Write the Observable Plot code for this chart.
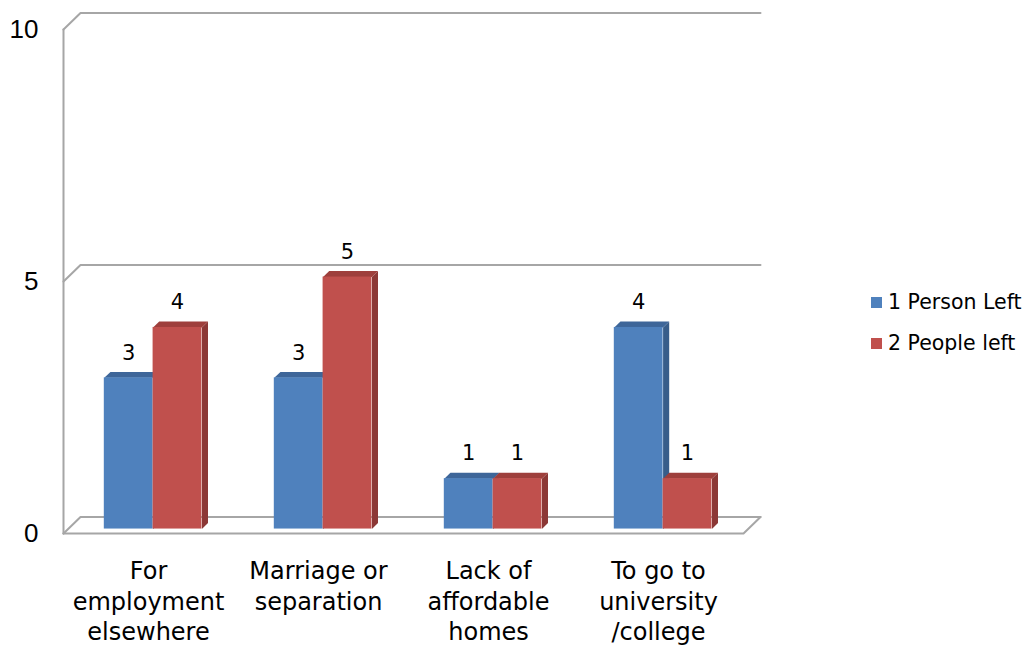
<!DOCTYPE html>
<html>
<head>
<meta charset="utf-8">
<script src="https://cdn.jsdelivr.net/npm/d3@7"></script>
<script src="https://cdn.jsdelivr.net/npm/@observablehq/plot@0.6"></script>
<style>
  body { margin: 0; background: #fff; }
  #wrap { position: relative; width: 1027px; height: 646px; }
  #legend { position: absolute; left: 871px; top: 289px; font-family: "DejaVu Sans", sans-serif; font-size: 20.5px; color: #000; }
  #legend .item { display: flex; align-items: center; height: 26px; margin-bottom: 15px; }
  #legend .sw { width: 11px; height: 11px; margin-right: 6px; }
</style>
</head>
<body>
<div id="wrap"><div id="chart"></div><div id="legend"></div></div>
<script>
// Reasons people left the household
const categories = ["For\nemployment\nelsewhere", "Marriage or\nseparation", "Lack of\naffordable\nhomes", "To go to\nuniversity\n/college"];
const series = ["1 Person Left", "2 People left"];
const onePersonLeft = [3, 3, 1, 4];
const twoPeopleLeft = [4, 5, 1, 1];
const yTicks = [0, 5, 10];

// Face shades per series: front, side, top
const shades = {
  "1 Person Left": {front: "#4f81bd", side: "#385d8a", top: "#3e6699"},
  "2 People left": {front: "#c0504d", side: "#8c3836", top: "#9e3f3c"}
};

// Layout
const W = 860, H = 646;
const mL = 63, mR = 117, mT = 29, mB = 113;
const xDomain = [0, 4], yDomain = [0, 10];
const pxPerX = (W - mL - mR) / (xDomain[1] - xDomain[0]);
const pxPerY = (H - mT - mB) / (yDomain[1] - yDomain[0]);

// Oblique depth of the box, in pixels, converted to data units
const depthPx = [17, 16.5];
const kx = depthPx[0] / pxPerX, ky = depthPx[1] / pxPerY;
const proj = (x, v, d) => ({x: x + d * kx, y: v + d * ky});

// Bars sit in a slab between these depth fractions
const f0 = 0.27, f1 = 0.63;
const barW = 0.287;

const bars = [];
categories.forEach((c, i) => {
  [onePersonLeft, twoPeopleLeft].forEach((vals, s) => {
    const x0 = i + 0.5 - barW + s * barW;
    bars.push({id: `${i}-${s}`, cat: c, series: series[s], value: vals[i], x0, x1: x0 + barW});
  });
});

const face = (b, kind) => {
  const v = b.value;
  const pts = kind === "side"
    ? [[b.x1, 0, f0], [b.x1, v, f0], [b.x1, v, f1], [b.x1, 0, f1]]
    : [[b.x0, v, f0], [b.x1, v, f0], [b.x1, v, f1], [b.x0, v, f1]];
  return pts.map(([x, vv, d]) => ({...proj(x, vv, d), id: b.id + kind, fill: shades[b.series][kind]}));
};
const sides = bars.flatMap(b => face(b, "side"));
const tops = bars.flatMap(b => face(b, "top"));
const fronts = bars.map(b => {
  const p0 = proj(b.x0, 0, f0), p1 = proj(b.x1, b.value, f0);
  return {x1: p0.x, x2: p1.x, y1: p0.y, y2: p1.y, fill: shades[b.series].front};
});
const labels = bars.map(b => ({...proj((b.x0 + b.x1) / 2, b.value, f0), text: String(b.value)}));

// Box outline: front-left edge, floor, and back-wall gridlines with their side-wall diagonals
const boxLines = [];
[[0, 0, 0], [0, 10, 0]].forEach(p => boxLines.push({...proj(...p), id: "left"}));
[[0, 0, 0], [4, 0, 0], [4, 0, 1]].forEach(p => boxLines.push({...proj(...p), id: "floor"}));
yTicks.forEach(t => {
  [[0, t, 0], [0, t, 1], [4, t, 1]].forEach(p => boxLines.push({...proj(...p), id: "grid" + t}));
});

const plot = Plot.plot({
  width: W, height: H,
  marginLeft: mL, marginRight: mR, marginTop: mT, marginBottom: mB,
  x: {domain: xDomain, axis: null},
  y: {domain: yDomain, axis: null},
  color: {type: "identity"},
  style: {fontFamily: "DejaVu Sans, sans-serif", background: "#fff", overflow: "visible"},
  marks: [
    Plot.line(boxLines, {x: "x", y: "y", z: "id", stroke: "#a6a6a6", strokeWidth: 2}),
    Plot.line(sides, {x: "x", y: "y", z: "id", fill: "fill", stroke: "none"}),
    Plot.line(tops, {x: "x", y: "y", z: "id", fill: "fill", stroke: "none"}),
    Plot.rect(fronts, {x1: "x1", x2: "x2", y1: "y1", y2: "y2", fill: "fill"}),
    Plot.text(labels, {x: "x", y: "y", text: "text", dy: -25, fontSize: 21, fill: "#000"}),
    Plot.axisY({ticks: yTicks, tickSize: 0, tickPadding: 25, fontSize: 26, fontFamily: "Liberation Sans, Arial, sans-serif", fill: "#000"}),
    Plot.text(categories, {x: (d, i) => i + 0.5, y: () => 0, text: d => d, lineAnchor: "top", dy: 24, fontSize: 24, lineHeight: 1.27, fill: "#000"})
  ]
});
document.getElementById("chart").appendChild(plot);

const legend = document.getElementById("legend");
series.forEach(s => {
  const item = document.createElement("div");
  item.className = "item";
  const sw = document.createElement("div");
  sw.className = "sw";
  sw.style.background = shades[s].front;
  const label = document.createElement("span");
  label.textContent = s;
  item.append(sw, label);
  legend.append(item);
});
</script>
</body>
</html>
